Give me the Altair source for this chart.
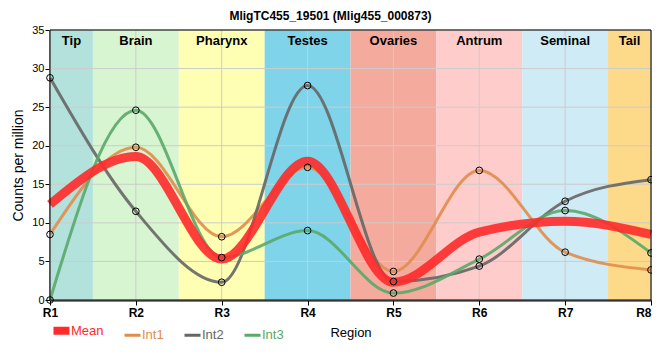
import altair as alt
import pandas as pd

# ---- data ----
region_pos = [1, 2, 3, 4, 5, 6, 7, 8]
series_names = ["Mean", "Int1", "Int2", "Int3"]
series_colors = ["#ff2a2a", "#e08d4c", "#666666", "#5aa86a"]

int1 = [8.5, 19.8, 8.2, 17.2, 3.7, 16.8, 6.2, 3.9]
int2 = [28.8, 11.5, 2.3, 27.8, 2.4, 4.4, 12.8, 15.6]
int3 = [0.0, 24.6, 5.5, 9.0, 0.9, 5.3, 11.6, 6.1]
mean = [12.4, 18.6, 5.3, 18.0, 2.3, 8.8, 10.2, 8.5]

tissues = ["Tip", "Brain", "Pharynx", "Testes", "Ovaries", "Antrum", "Seminal", "Tail"]
band_start = [1.0, 1.5, 2.5, 3.5, 4.5, 5.5, 6.5, 7.5]
band_end = [1.5, 2.5, 3.5, 4.5, 5.5, 6.5, 7.5, 8.0]
band_colors = ["#b3e2dd", "#d7f5d0", "#ffffb3", "#7fd4ea",
               "#f4ab9e", "#ffcccc", "#cfebf5", "#fdd98a"]

y_ticks = [0, 5, 10, 15, 20, 25, 30, 35]

# ---- tables ----
bands = pd.DataFrame({
    "tissue": tissues, "start": band_start, "end": band_end,
    "mid": [(a + b) / 2 for a, b in zip(band_start, band_end)],
    "fill": band_colors,
})
ints = pd.DataFrame(
    [{"series": n, "x": x, "v": v}
     for n, vals in [("Int1", int1), ("Int2", int2), ("Int3", int3)]
     for x, v in zip(region_pos, vals)]
)
means = pd.DataFrame({"series": "Mean", "x": region_pos, "v": mean})
xgrid = pd.DataFrame({"x": region_pos})
ygrid = pd.DataFrame({"y": y_ticks})

xs = alt.Scale(domain=[1, 8], nice=False, zero=False)
ys = alt.Scale(domain=[0, 35], nice=False)
cs = alt.Scale(domain=series_names, range=series_colors)

xaxis = alt.Axis(
    values=region_pos, labelExpr="'R' + datum.value", title="Region",
    labelFontWeight="bold", labelFontSize=12, labelColor="black",
    labelFont="Liberation Sans", tickColor="black", domainColor="black",
    domainWidth=2, tickSize=5, labelPadding=2, grid=False,
    labelAlign={"condition": {"test": "datum.value == 8", "value": "right"},
                "value": "center"},
    titleFontWeight="normal", titleFontSize=13, titleFont="Liberation Sans",
    titleColor="black", titlePadding=8, labelFlush=False,
)
yaxis = alt.Axis(
    values=y_ticks, title="Counts per million", grid=False,
    labelFontSize=11, labelColor="black", labelFont="Liberation Sans",
    tickColor="black", domainColor="black", domainWidth=2, tickSize=5,
    labelPadding=1,
    titleFontWeight="normal", titleFontSize=14, titleFont="Liberation Sans",
    titleColor="black", titlePadding=6,
)

band_rect = alt.Chart(bands).mark_rect().encode(
    x=alt.X("start:Q", scale=xs, axis=xaxis),
    x2="end:Q",
    fill=alt.Fill("fill:N", scale=None),
)
band_text = alt.Chart(bands).mark_text(
    fontSize=13, fontWeight="bold", font="Liberation Sans", color="black"
).encode(
    x=alt.X("mid:Q", scale=xs, axis=xaxis),
    y=alt.value(11),
    text="tissue:N",
)
vgrid = alt.Chart(xgrid).mark_rule(color="#cccccc", strokeWidth=1).encode(
    x=alt.X("x:Q", scale=xs, axis=xaxis)
)
hgrid = alt.Chart(ygrid).mark_rule(color="#cccccc", strokeWidth=1).encode(
    y=alt.Y("y:Q", scale=ys, axis=yaxis)
)

legend = alt.Legend(
    title=None, orient="none", direction="horizontal",
    legendX=5, legendY=294, padding=0,
    symbolType="stroke", symbolSize=256,
    symbolStrokeWidth=alt.ExprRef(expr="datum.value == 'Mean' ? 8 : 3"),
    labelColor=alt.ExprRef(expr="scale('color', datum.value)"),
    labelFontSize=13, labelFont="Liberation Sans", labelOffset=3,
    columnPadding=14, symbolOpacity=1,
)

int_lines = alt.Chart(ints).mark_line(
    interpolate="monotone", strokeWidth=3, opacity=0.9
).encode(
    x=alt.X("x:Q", scale=xs, axis=xaxis),
    y=alt.Y("v:Q", scale=ys, axis=yaxis),
    color=alt.Color("series:N", scale=cs, legend=legend),
    detail="series:N",
)
mean_line = alt.Chart(means).mark_line(
    interpolate="monotone", strokeWidth=9, opacity=0.9
).encode(
    x=alt.X("x:Q", scale=xs, axis=xaxis),
    y=alt.Y("v:Q", scale=ys, axis=yaxis),
    color=alt.Color("series:N", scale=cs, legend=legend),
)
pts = alt.Chart(ints).mark_point(
    shape="circle", size=45, filled=False, color="black", strokeWidth=1, opacity=1
).encode(
    x=alt.X("x:Q", scale=xs, axis=xaxis),
    y=alt.Y("v:Q", scale=ys, axis=yaxis),
)
frame = alt.Chart(bands).mark_rect(
    fill="transparent", stroke="black", strokeWidth=1
).encode(
    x=alt.X("min(start):Q", scale=xs, axis=xaxis),
    x2="max(end):Q",
)

chart = alt.layer(
    band_rect, vgrid, hgrid, band_text, int_lines, mean_line, pts, frame
).properties(
    width=601, height=270,
    autosize=alt.AutoSizeParams(type="none"),
    padding={"left": 42, "top": 22, "right": 1, "bottom": 52},
    title=alt.Title(
        "MligTC455_19501 (Mlig455_000873)", fontSize=12, fontWeight="bold",
        font="Liberation Sans", anchor="middle", frame="group", dx=-20,
        offset=1, color="black",
    ),
).configure_view(stroke=None).configure(background="white")

chart.save("out.html", embed_options={"renderer": "svg", "actions": False})
